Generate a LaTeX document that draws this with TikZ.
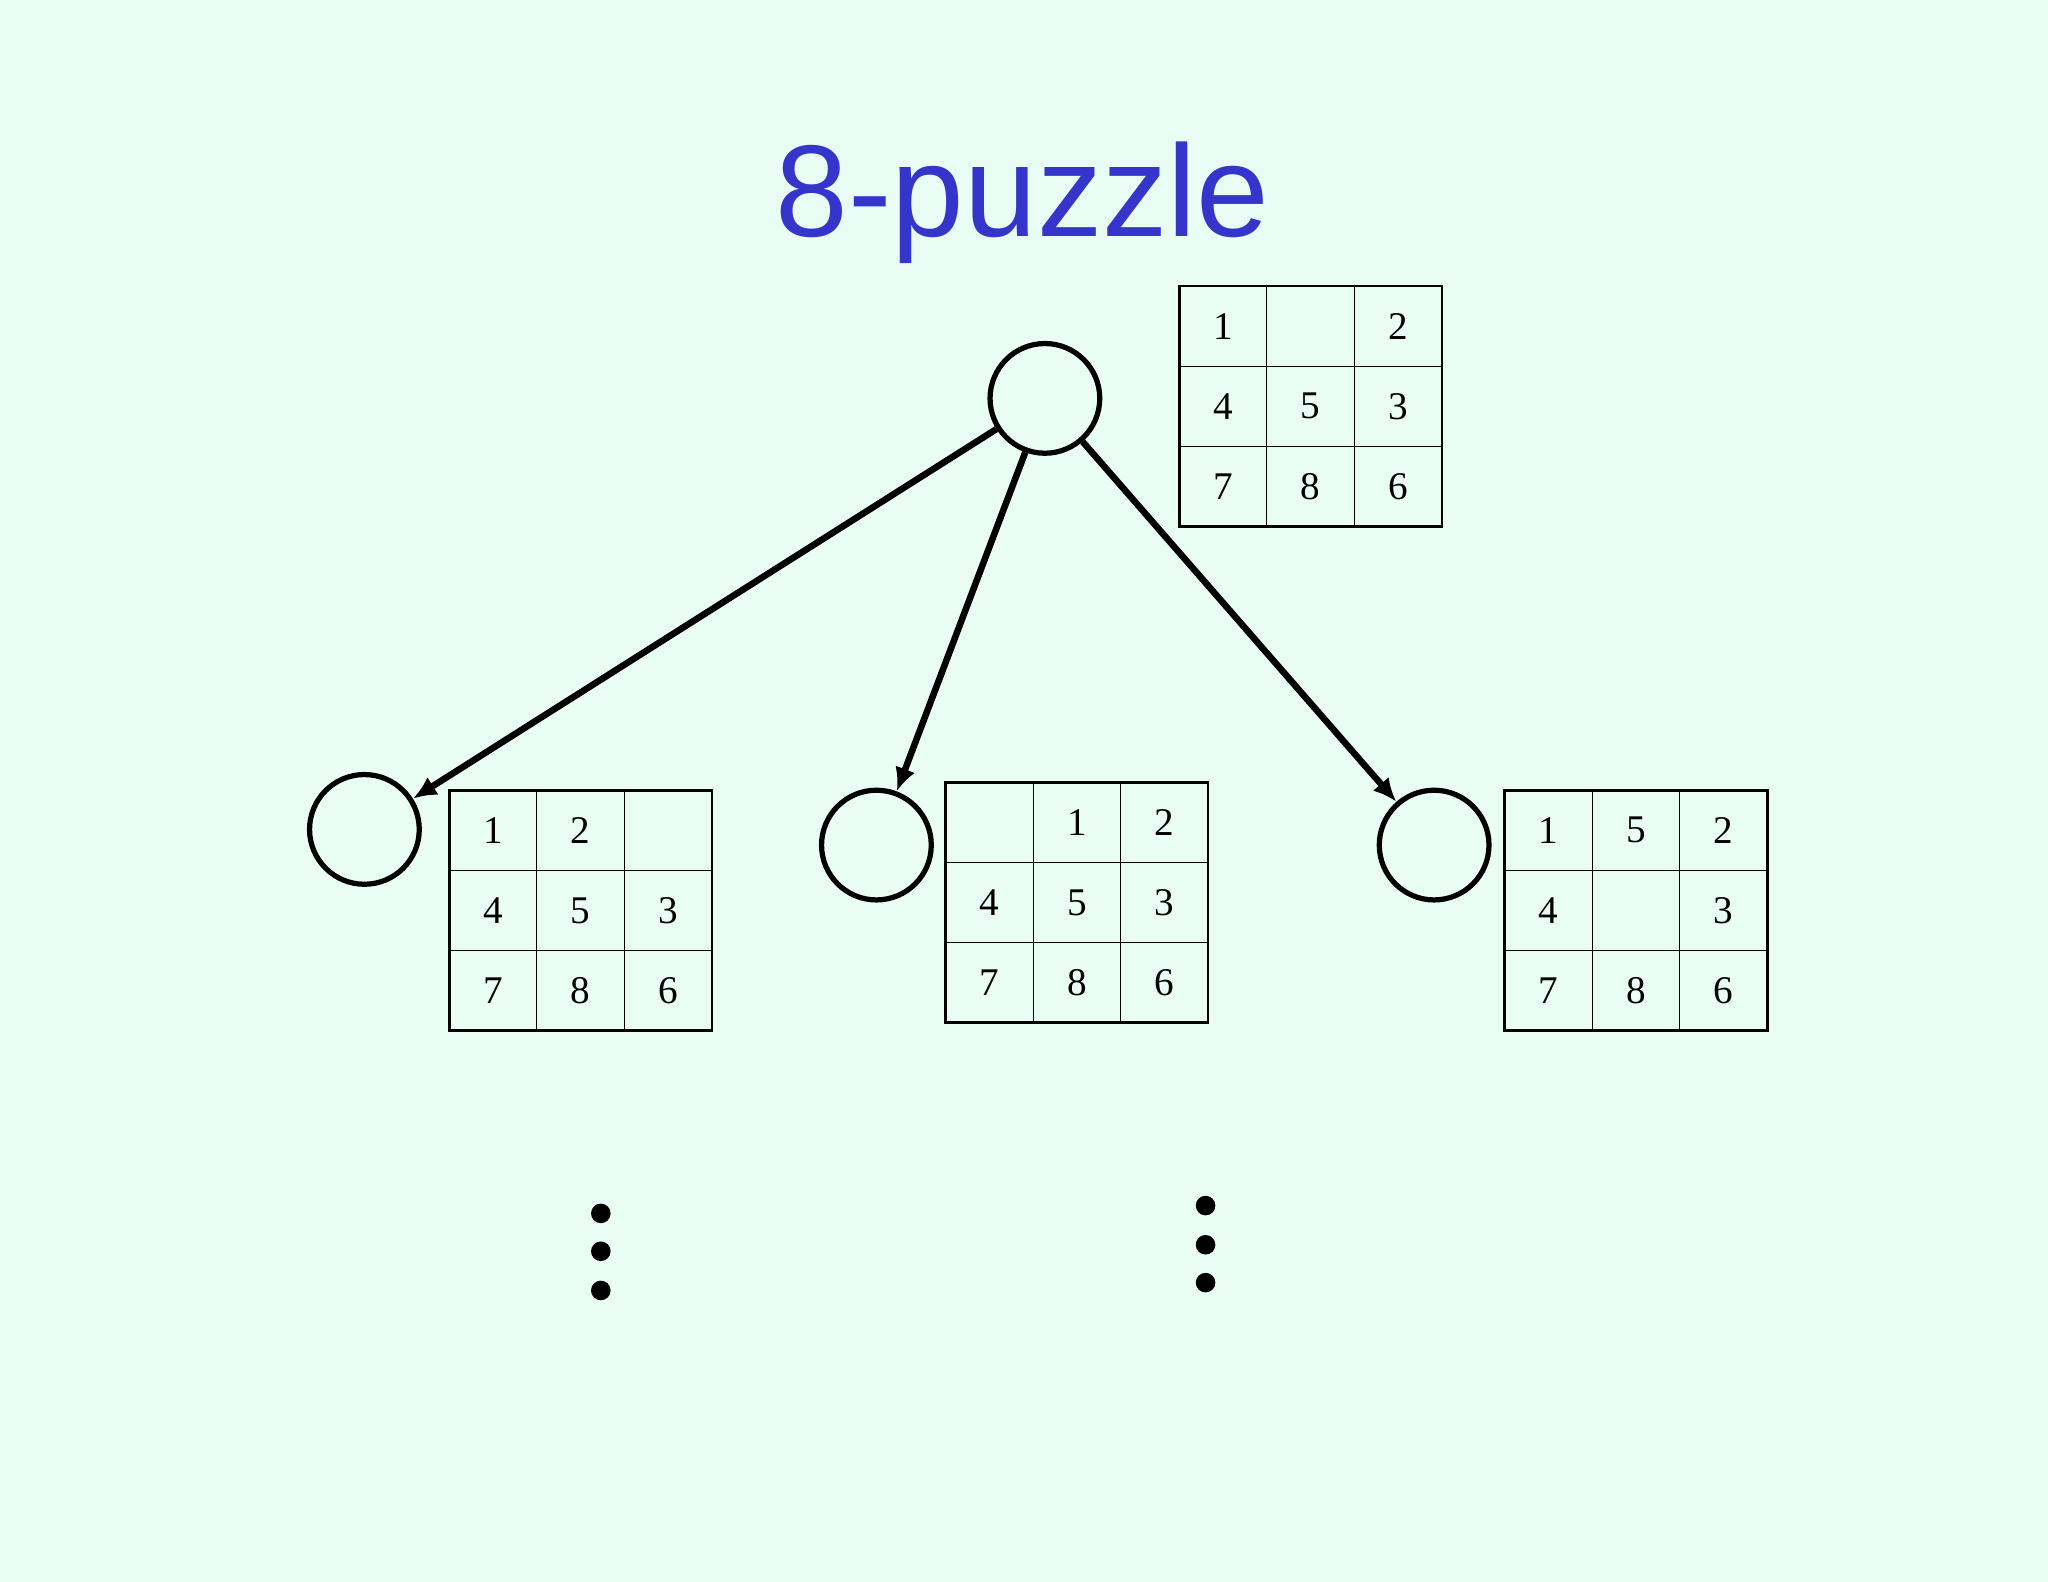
\documentclass[tikz,border=0pt]{standalone}
\usepackage{fontspec}
\setmainfont{Liberation Serif}
\newfontfamily\titlefont{Liberation Sans}
\usetikzlibrary{arrows.meta}
\definecolor{bg}{HTML}{E9FDF4}
\definecolor{ttl}{HTML}{3535CC}
\newcommand\puzzle[4]{%
  \draw[line width=1pt] (#1,#2) rectangle ++(201,184);
  \foreach \k in {1,2}{
    \draw[line width=0.4pt] (#1+\k*67,#2) -- ++(0,184);
    \draw[line width=0.4pt] (#1,#2+\k*61.33) -- ++(201,0);}
  \foreach \v [count=\i from 0] in {#3}{
    \pgfmathtruncatemacro\cc{mod(\i,3)}
    \pgfmathtruncatemacro\rr{div(\i,3)}
    \node[font=\fontsize{15}{15}\selectfont] (#4-\i) at (#1+33.5+\cc*67,#2+30.7+\rr*61.33) {\v};}
}
\begin{document}
\begin{tikzpicture}[x=0.5pt,y=-0.5pt,
  state/.style={circle,draw,line width=2pt,minimum size=42pt,inner sep=0pt},
  edge/.style={line width=2.5pt,-{Latex[length=9pt,width=8pt]}},
  vdot/.style={circle,fill,inner sep=0pt,minimum size=7.5pt}]
\fill[bg] (0,0) rectangle (1568,1211);
\useasboundingbox (0,0) rectangle (1568,1211);
\node[text=ttl,font=\titlefont\fontsize{50}{50}\selectfont] (title) at (783,155) {8-puzzle};
\node[state] (root) at (800,305) {};
\node[state] (c1) at (279,635) {};
\node[state] (c2) at (671,647) {};
\node[state] (c3) at (1098,647) {};
\puzzle{903}{219}{1,,2,4,5,3,7,8,6}{g0}
\puzzle{344}{605}{1,2,,4,5,3,7,8,6}{g1}
\puzzle{724}{599}{,1,2,4,5,3,7,8,6}{g2}
\puzzle{1152}{605}{1,5,2,4,,3,7,8,6}{g3}
\draw[edge] (root) -- (c1);
\draw[edge] (root.250) -- (c2);
\draw[edge] (root) -- (c3);
\node[vdot] (d1) at (460,929) {};
\node[vdot] (d2) at (460,958) {};
\node[vdot] (d3) at (460,988) {};
\node[vdot] (e1) at (923,923) {};
\node[vdot] (e2) at (923,953) {};
\node[vdot] (e3) at (923,982) {};
\end{tikzpicture}
\end{document}
